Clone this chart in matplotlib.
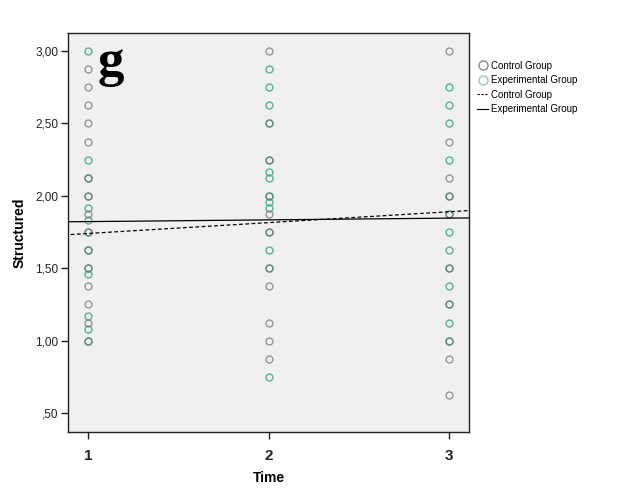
import numpy as np
import matplotlib
matplotlib.use("Agg")
import matplotlib.pyplot as plt
from matplotlib.lines import Line2D
from matplotlib.ticker import FuncFormatter

plt.rcParams['font.family'] = ['Liberation Sans', 'DejaVu Sans']

# data
ctrl_t1 = [2.875, 2.75, 2.625, 2.5, 2.375, 2.125, 2.0, 1.875, 1.75, 1.625, 1.5, 1.375, 1.25, 1.125, 1.0]
exp_t1 = [3.0, 2.25, 2.125, 2.0, 1.917, 1.833, 1.75, 1.625, 1.5, 1.458, 1.167, 1.083, 1.0]
ctrl_t2 = [3.0, 2.5, 2.25, 2.0, 1.875, 1.75, 1.5, 1.375, 1.125, 1.0, 0.875]
exp_t2 = [2.875, 2.75, 2.625, 2.5, 2.25, 2.167, 2.125, 2.0, 1.958, 1.917, 1.75, 1.625, 1.5, 0.75]
ctrl_t3 = [3.0, 2.375, 2.125, 2.0, 1.875, 1.5, 1.25, 1.0, 0.875, 0.625]
exp_t3 = [2.75, 2.625, 2.5, 2.25, 2.0, 1.875, 1.75, 1.625, 1.5, 1.375, 1.25, 1.125, 1.0]

# fit lines (intercept, slope)
ctrl_fit = (1.665, 0.075)
exp_fit = (1.810, 0.012)

ctrl_col = '#707070'
exp_col = '#45b08e'

fig = plt.figure(figsize=(6.26, 5.01), dpi=100)
ax = fig.add_axes([0.1086, 0.1377, 0.6406, 0.7963])
ax.set_facecolor('#f0f0f0')

# experimental first, control on top
for t, vals in zip([1, 2, 3], [exp_t1, exp_t2, exp_t3]):
    ax.plot([t] * len(vals), vals, 'o', ms=5, mfc='none', mec=exp_col, mew=1.1, alpha=0.85)
for t, vals in zip([1, 2, 3], [ctrl_t1, ctrl_t2, ctrl_t3]):
    ax.plot([t] * len(vals), vals, 'o', ms=5, mfc='none', mec=ctrl_col, mew=1.0, alpha=0.7)

xs = np.array([0.8, 3.2])
ax.plot(xs, ctrl_fit[0] + ctrl_fit[1] * xs, color='black', lw=0.9, ls=(0, (3, 2)))
ax.plot(xs, exp_fit[0] + exp_fit[1] * xs, color='black', lw=0.9)

ax.set_xlim(0.889, 3.11)
ax.set_ylim(0.369, 3.124)
ax.set_xticks([1, 2, 3])
ax.set_yticks([0.5, 1.0, 1.5, 2.0, 2.5, 3.0])

def fmt(v, pos):
    s = f"{v:.2f}".replace('.', ',')
    if s.startswith('0'):
        s = s[1:]
    return s

ax.yaxis.set_major_formatter(FuncFormatter(fmt))
ax.tick_params(axis='y', labelsize=8.5, length=5, width=1, direction='out', colors='#222222', pad=2)
ax.tick_params(axis='x', labelsize=11, length=5, width=1, direction='out', colors='#222222', pad=7)
for lab in ax.get_xticklabels():
    lab.set_fontweight('bold')
for sp in ax.spines.values():
    sp.set_color('#222222')
    sp.set_linewidth(1.0)

ax.set_xlabel('Time', fontsize=10, fontweight='bold', labelpad=6)
ax.set_ylabel('Structured', fontsize=10, fontweight='bold', labelpad=6)

ax.text(0.075, 0.985, 'g', transform=ax.transAxes, fontsize=38, fontweight='bold',
        family=['Liberation Serif', 'DejaVu Serif'], va='top', ha='left')

handles = [
    Line2D([], [], ls='none', marker='o', ms=6.5, mfc='none', mec='#8a8a8a', mew=1.0),
    Line2D([], [], ls='none', marker='o', ms=6.5, mfc='none', mec='#9ac9b9', mew=1.0),
    Line2D([], [], color='black', lw=0.8, ls=(0, (2, 1.5))),
    Line2D([], [], color='black', lw=0.8),
]
labels = ['Control Group', 'Experimental Group', 'Control Group', 'Experimental Group']
leg = ax.legend(handles, labels, loc='upper left', bbox_to_anchor=(1.0, 0.95), frameon=False,
                fontsize=7, handlelength=1.2, handletextpad=0.3, labelspacing=0.45, borderaxespad=0.4)

fig.savefig('out.png', dpi=100)
